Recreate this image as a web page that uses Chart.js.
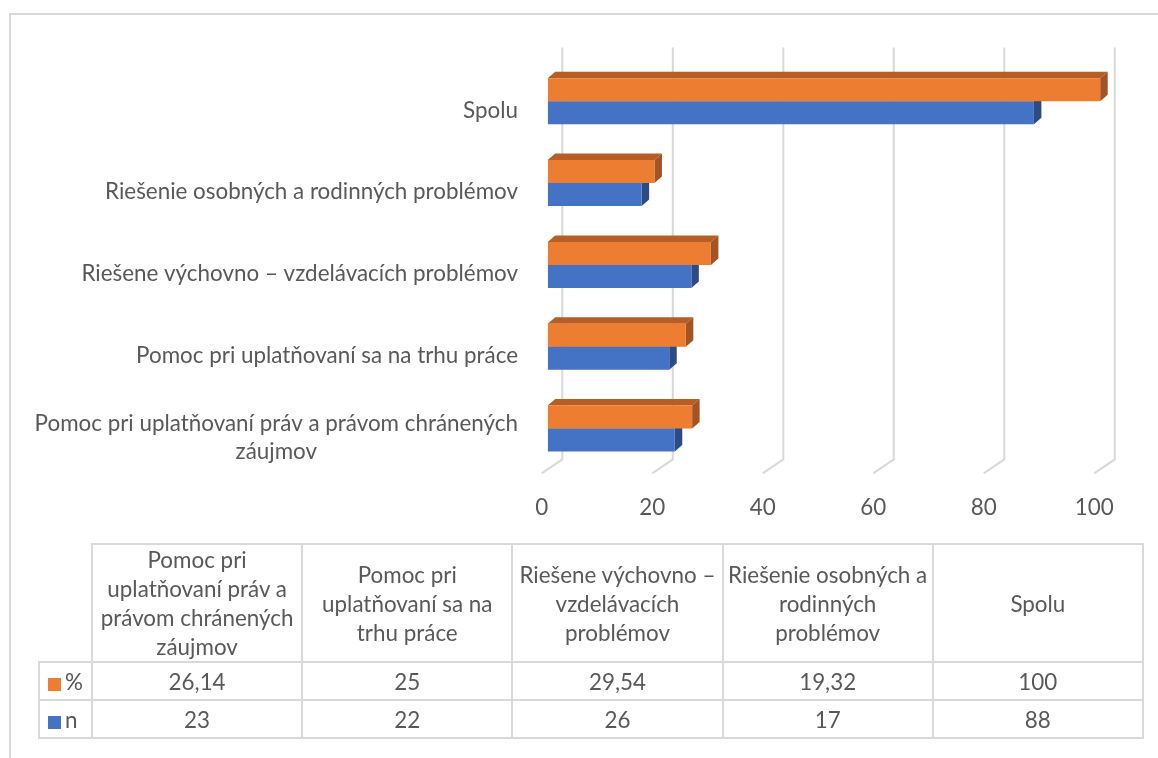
<!DOCTYPE html>
<html>
<head>
<meta charset="utf-8">
<script src="https://cdn.jsdelivr.net/npm/chart.js@4.4.1/dist/chart.umd.min.js"></script>
<style>
  html, body { margin: 0; padding: 0; background: #fff; }
  #wrap { position: relative; width: 1158px; height: 758px; overflow: hidden; font-family: Lato, sans-serif; color: #595959; }
  #frame { position: absolute; left: 9px; top: 13px; width: 1300px; height: 900px; border-left: 2px solid #D9D9D9; border-top: 2px solid #D9D9D9; }
  #chart { position: absolute; left: 0; top: 0; }
  #tbl { position: absolute; left: 38px; top: 543px; border-collapse: collapse; table-layout: fixed; font-size: 22.4px; line-height: 29px; color: #595959; }
  #tbl td { border: 2px solid #D9D9D9; text-align: center; padding: 0 4px; }
  #tbl td.corner { border: none; }
  #tbl tr.head td { height: 115px; }
  #tbl tr.row td { height: 36px; }
  #tbl td.key { text-align: left; padding-left: 8px; white-space: nowrap; }
  .sw { display: inline-block; width: 13px; height: 13px; margin-right: 4px; vertical-align: -1px; }
</style>
</head>
<body>
<div id="wrap">
  <div id="frame"></div>
  <canvas id="chart" width="1158" height="758"></canvas>
  <table id="tbl"></table>
</div>
<script>
// data
const categories = ['Pomoc pri uplatňovaní práv a právom chránených záujmov', 'Pomoc pri uplatňovaní sa na trhu práce', 'Riešene výchovno – vzdelávacích problémov', 'Riešenie osobných a rodinných problémov', 'Spolu'];
const axisLabels = [['Pomoc pri uplatňovaní práv a právom chránených', 'záujmov'], ['Pomoc pri uplatňovaní sa na trhu práce'], ['Riešene výchovno – vzdelávacích problémov'], ['Riešenie osobných a rodinných problémov'], ['Spolu']];
const headerLabels = [['Pomoc pri', 'uplatňovaní práv a', 'právom chránených', 'záujmov'], ['Pomoc pri', 'uplatňovaní sa na', 'trhu práce'], ['Riešene výchovno –', 'vzdelávacích', 'problémov'], ['Riešenie osobných a', 'rodinných', 'problémov'], ['Spolu']];
const seriesNames = ['%', 'n'];
const percentValues = [26.14, 25, 29.54, 19.32, 100];
const countValues = [23, 22, 26, 17, 88];
const xTicks = [0, 20, 40, 60, 80, 100];

const frontColors = ['#ED7D31', '#4472C4'];
const topColors = ['#B65E26', '#2F5597'];
const sideColors = ['#A45322', '#2B4B84'];
const textColor = '#595959';
const fontFamily = 'Lato, sans-serif';
const fontSize = 22.4;

const depthX = 7.5, depthY = 6.5;

// grid walls and bar depth, drawn under the bar fronts
const depthPlugin = {
  id: 'depth',
  beforeDatasetsDraw(chart) {
    const { ctx, chartArea, scales: { x } } = chart;
    ctx.save();
    ctx.strokeStyle = '#D9D9D9';
    ctx.lineWidth = 2;
    x.ticks.forEach(t => {
      const px = x.getPixelForValue(t.value);
      ctx.beginPath();
      ctx.moveTo(px + 14.6, chartArea.top - 13);
      ctx.lineTo(px + 14.6, chartArea.bottom - 10);
      ctx.lineTo(px - 6, chartArea.bottom + 4);
      ctx.stroke();
    });
    chart.data.datasets.forEach((ds, di) => {
      chart.getDatasetMeta(di).data.forEach(bar => {
        const { x: end, y, base, height } = bar.getProps(['x', 'y', 'base', 'height'], true);
        const top = y - height / 2, bottom = y + height / 2;
        ctx.fillStyle = topColors[di];
        ctx.beginPath();
        ctx.moveTo(base, top);
        ctx.lineTo(base + depthX, top - depthY);
        ctx.lineTo(end + depthX, top - depthY);
        ctx.lineTo(end, top);
        ctx.closePath();
        ctx.fill();
        ctx.fillStyle = sideColors[di];
        ctx.beginPath();
        ctx.moveTo(end, top);
        ctx.lineTo(end + depthX, top - depthY);
        ctx.lineTo(end + depthX, bottom - depthY);
        ctx.lineTo(end, bottom);
        ctx.closePath();
        ctx.fill();
      });
    });
    ctx.restore();
  }
};

// category labels: block right aligned, lines centred within the block
const labelPlugin = {
  id: 'catLabels',
  afterDraw(chart) {
    const { ctx, scales: { y } } = chart;
    ctx.save();
    ctx.font = fontSize + 'px ' + fontFamily;
    ctx.fillStyle = textColor;
    ctx.textAlign = 'center';
    ctx.textBaseline = 'middle';
    axisLabels.forEach((lines, i) => {
      const w = Math.max(...lines.map(l => ctx.measureText(l).width));
      const cx = 518 - w / 2;
      const cy = y.getPixelForValue(i) + 9 - (lines.length - 1) * 14;
      lines.forEach((l, k) => ctx.fillText(l, cx, cy + k * 28));
    });
    ctx.restore();
  }
};

new Chart(document.getElementById('chart'), {
  type: 'bar',
  data: {
    labels: categories,
    datasets: [
      { label: seriesNames[0], data: percentValues, backgroundColor: frontColors[0] },
      { label: seriesNames[1], data: countValues, backgroundColor: frontColors[1] }
    ]
  },
  options: {
    indexAxis: 'y',
    responsive: false,
    animation: false,
    devicePixelRatio: 1,
    categoryPercentage: 0.5623,
    barPercentage: 1,
    layout: { padding: { left: 547.7, right: 57.8, top: 60.4, bottom: 0 } },
    plugins: { legend: { display: false }, tooltip: { enabled: false } },
    scales: {
      y: { display: false, reverse: true },
      x: {
        min: 0, max: 100,
        afterBuildTicks: s => { s.ticks = xTicks.map(v => ({ value: v })); },
        grid: { display: false },
        border: { display: false },
        ticks: { color: textColor, font: { family: fontFamily, size: fontSize }, padding: 17, labelOffset: -6, maxRotation: 0, autoSkip: false },
        afterFit: s => { s.height = 288.6; }
      }
    }
  },
  plugins: [depthPlugin, labelPlugin]
});

// data table
const fmt = v => String(v).replace('.', ',');
const tbl = document.getElementById('tbl');
let html = '<colgroup><col style="width:53px">' + categories.map(() => '<col style="width:210.2px">').join('') + '</colgroup>';
html += '<tr class="head"><td class="corner"></td>' + headerLabels.map(l => '<td>' + l.join('<br>') + '</td>').join('') + '</tr>';
[percentValues, countValues].forEach((vals, si) => {
  html += '<tr class="row"><td class="key"><span class="sw" style="background:' + frontColors[si] + '"></span>' + seriesNames[si] + '</td>' +
    vals.map(v => '<td>' + fmt(v) + '</td>').join('') + '</tr>';
});
tbl.innerHTML = html;
tbl.style.width = (53 + 5 * 210.2) + 'px';
</script>
</body>
</html>
